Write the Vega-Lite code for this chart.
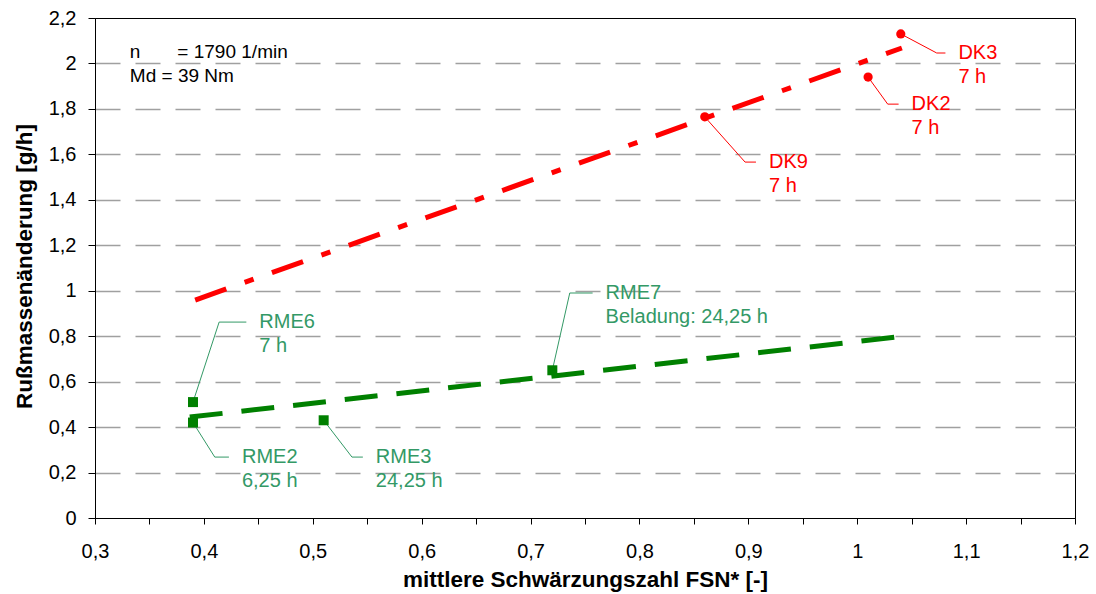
{
  "$schema": "https://vega.github.io/schema/vega-lite/v6.json",
  "width": 980,
  "height": 500,
  "autosize": {"type": "none"},
  "padding": {"left": 95, "top": 18, "right": 21, "bottom": 76},
  "background": "#ffffff",
  "config": {
    "font": "Liberation Sans",
    "view": {"stroke": "#000000", "strokeWidth": 1},
    "axis": {
      "labelFont": "Liberation Sans",
      "titleFont": "Liberation Sans",
      "labelColor": "#000000",
      "titleColor": "#000000",
      "domainColor": "#000000",
      "tickColor": "#000000",
      "labelFontSize": 20,
      "titleFontSize": 22.5,
      "titleFontWeight": "bold",
      "labelOverlap": false,
      "labelFlush": false,
      "labelBound": false
    }
  },
  "datasets": {
    "points": [
      {"name": "DK9", "info": "7 h", "group": "DK", "x": 0.86, "y": 1.765, "ex": 0.897, "ey": 1.566, "lx": 0.907},
      {"name": "DK2", "info": "7 h", "group": "DK", "x": 1.01, "y": 1.94, "ex": 1.028, "ey": 1.821, "lx": 1.038},
      {"name": "DK3", "info": "7 h", "group": "DK", "x": 1.04, "y": 2.13, "ex": 1.073, "ey": 2.046, "lx": 1.081},
      {"name": "RME6", "info": "7 h", "group": "RME", "x": 0.39, "y": 0.51, "ex": 0.414, "ey": 0.862, "lx": 0.439},
      {"name": "RME2", "info": "6,25 h", "group": "RME", "x": 0.39, "y": 0.42, "ex": 0.41, "ey": 0.268, "lx": 0.423},
      {"name": "RME3", "info": "24,25 h", "group": "RME", "x": 0.51, "y": 0.43, "ex": 0.536, "ey": 0.268, "lx": 0.546},
      {"name": "RME7", "info": "Beladung: 24,25 h", "group": "RME", "x": 0.72, "y": 0.65, "ex": 0.736, "ey": 0.99, "lx": 0.757}
    ],
    "trend": [
      {"group": "DK", "x": 0.392, "y": 0.959},
      {"group": "DK", "x": 1.041, "y": 2.068},
      {"group": "RME", "x": 0.387, "y": 0.444},
      {"group": "RME", "x": 1.036, "y": 0.796}
    ],
    "notes": [
      {"t": "n\u00a0\u00a0\u00a0\u00a0\u00a0\u00a0\u00a0= 1790 1/min", "x": 0.332, "y": 2.05},
      {"t": "Md = 39 Nm", "x": 0.332, "y": 1.945}
    ]
  },
  "layer": [
    {
      "data": {"name": "trend"},
      "transform": [{"filter": "datum.group === 'DK'"}],
      "mark": {"type": "line", "color": "#ff0000", "strokeWidth": 5, "strokeDash": [33, 19.5, 9.5, 19.5], "strokeCap": "butt"},
      "encoding": {
        "x": {
          "field": "x", "type": "quantitative",
          "scale": {"domain": [0.3, 1.2], "nice": false, "zero": false},
          "title": "mittlere Schwärzungszahl FSN* [-]",
          "axis": {
            "values": [0.3, 0.35, 0.4, 0.45, 0.5, 0.55, 0.6, 0.65, 0.7, 0.75, 0.8, 0.85, 0.9, 0.95, 1.0, 1.05, 1.1, 1.15, 1.2],
            "labelExpr": "round(datum.value*100) % 10 === 0 ? replace(format(datum.value, '.1~f'), '.', ',') : ''",
            "grid": false,
            "tickSize": 6,
            "labelPadding": 27,
            "labelBaseline": "middle",
            "titleBaseline": "middle",
            "titleY": 61
          }
        },
        "y": {
          "field": "y", "type": "quantitative",
          "scale": {"domain": [0, 2.2], "nice": false, "zero": false},
          "title": "Rußmassenänderung [g/h]",
          "axis": {
            "values": [0, 0.1, 0.2, 0.3, 0.4, 0.5, 0.6, 0.7, 0.8, 0.9, 1.0, 1.1, 1.2, 1.3, 1.4, 1.5, 1.6, 1.7, 1.8, 1.9, 2.0, 2.1, 2.2],
            "labelExpr": "round(datum.value*10) % 2 === 0 ? replace(format(datum.value, '.1~f'), '.', ',') : ''",
            "grid": true,
            "gridColor": "#a0a0a0",
            "gridWidth": 1.3,
            "gridDash": [25, 15],
            "gridOpacity": {"condition": {"test": "round(datum.value*10) % 2 === 0 && datum.value > 0.01 && datum.value < 2.19", "value": 1}, "value": 0},
            "tickSize": 7,
            "labelPadding": 12,
            "titleBaseline": "middle",
            "titleX": -71,
            "titleY": 248
          }
        }
      }
    },
    {
      "data": {"name": "trend"},
      "transform": [{"filter": "datum.group === 'RME'"}],
      "mark": {"type": "line", "color": "#008000", "strokeWidth": 5, "strokeDash": [33, 19], "strokeCap": "butt"},
      "encoding": {
        "x": {"field": "x", "type": "quantitative", "title": "mittlere Schwärzungszahl FSN* [-]"},
        "y": {"field": "y", "type": "quantitative", "title": "Rußmassenänderung [g/h]"}
      }
    },
    {
      "data": {"name": "points"},
      "mark": {"type": "rule", "strokeWidth": 1},
      "encoding": {
        "x": {"field": "x", "type": "quantitative", "title": "mittlere Schwärzungszahl FSN* [-]"},
        "y": {"field": "y", "type": "quantitative", "title": "Rußmassenänderung [g/h]"},
        "x2": {"field": "ex"},
        "y2": {"field": "ey"},
        "color": {"condition": {"test": "datum.group === 'DK'", "value": "#ff0000"}, "value": "#339966"}
      }
    },
    {
      "data": {"name": "points"},
      "mark": {"type": "rule", "strokeWidth": 1},
      "encoding": {
        "x": {"field": "ex", "type": "quantitative", "title": "mittlere Schwärzungszahl FSN* [-]"},
        "y": {"field": "ey", "type": "quantitative", "title": "Rußmassenänderung [g/h]"},
        "x2": {"field": "lx"},
        "color": {"condition": {"test": "datum.group === 'DK'", "value": "#ff0000"}, "value": "#339966"}
      }
    },
    {
      "data": {"name": "points"},
      "mark": {"type": "point", "filled": true, "opacity": 1, "strokeWidth": 0},
      "encoding": {
        "x": {"field": "x", "type": "quantitative", "title": "mittlere Schwärzungszahl FSN* [-]"},
        "y": {"field": "y", "type": "quantitative", "title": "Rußmassenänderung [g/h]"},
        "shape": {"condition": {"test": "datum.group === 'DK'", "value": "circle"}, "value": "square"},
        "size": {"condition": {"test": "datum.group === 'DK'", "value": 85}, "value": 100},
        "color": {"condition": {"test": "datum.group === 'DK'", "value": "#ff0000"}, "value": "#008000"}
      }
    },
    {
      "data": {"name": "points"},
      "mark": {"type": "text", "align": "left", "baseline": "middle", "dx": 13, "fontSize": 20, "font": "Liberation Sans"},
      "encoding": {
        "x": {"field": "lx", "type": "quantitative", "title": "mittlere Schwärzungszahl FSN* [-]"},
        "y": {"field": "ey", "type": "quantitative", "title": "Rußmassenänderung [g/h]"},
        "text": {"field": "name"},
        "color": {"condition": {"test": "datum.group === 'DK'", "value": "#ff0000"}, "value": "#339966"}
      }
    },
    {
      "data": {"name": "points"},
      "mark": {"type": "text", "align": "left", "baseline": "middle", "dx": 13, "dy": 24, "fontSize": 20, "font": "Liberation Sans"},
      "encoding": {
        "x": {"field": "lx", "type": "quantitative", "title": "mittlere Schwärzungszahl FSN* [-]"},
        "y": {"field": "ey", "type": "quantitative", "title": "Rußmassenänderung [g/h]"},
        "text": {"field": "info"},
        "color": {"condition": {"test": "datum.group === 'DK'", "value": "#ff0000"}, "value": "#339966"}
      }
    },
    {
      "data": {"name": "notes"},
      "mark": {"type": "text", "align": "left", "baseline": "middle", "fontSize": 19, "font": "Liberation Sans", "color": "#000000"},
      "encoding": {
        "x": {"field": "x", "type": "quantitative", "title": "mittlere Schwärzungszahl FSN* [-]"},
        "y": {"field": "y", "type": "quantitative", "title": "Rußmassenänderung [g/h]"},
        "text": {"field": "t"}
      }
    }
  ]
}
